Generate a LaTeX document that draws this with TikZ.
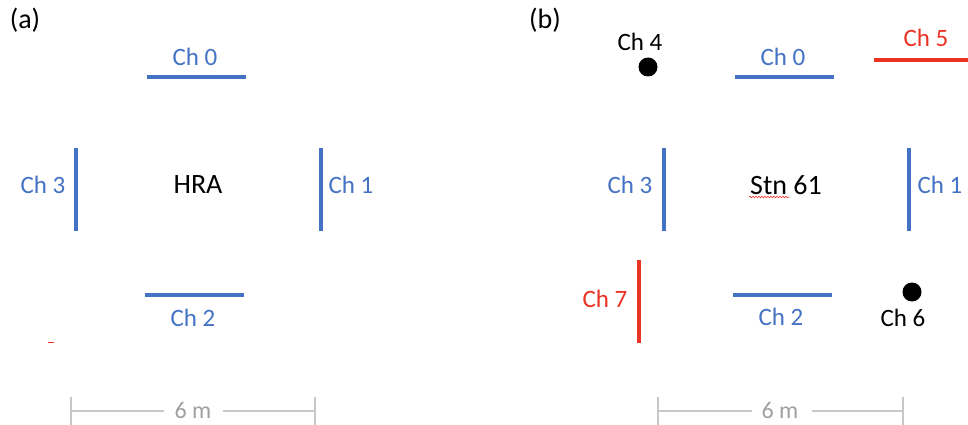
\documentclass[tikz,border=0pt]{standalone}
\usepackage{fontspec}
\setmainfont{Carlito}
\usetikzlibrary{decorations.pathmorphing}
\definecolor{chblue}{RGB}{68,114,196}
\definecolor{chred}{RGB}{234,51,35}
\definecolor{scalegray}{RGB}{200,200,200}
\definecolor{scaletext}{RGB}{160,160,160}
\tikzset{
  ant/.style={line width=4pt, chblue},
  antred/.style={line width=4pt, chred},
  lbl/.style={inner sep=0pt, font=\fontsize{25}{30}\selectfont, text=chblue},
  lblred/.style={lbl, text=chred},
  lblblk/.style={lbl, text=black},
  title/.style={inner sep=0pt, font=\fontsize{28}{33}\selectfont, text=black},
  scaleline/.style={line width=1.5pt, scalegray},
  scalelbl/.style={inner sep=0pt, font=\fontsize{24}{28}\selectfont, text=scaletext},
  dot/.style={circle, fill=black, inner sep=0pt, minimum size=19pt}
}
\begin{document}
\begin{tikzpicture}[x=1pt,y=-1pt]
\useasboundingbox (0,0) rectangle (968,425);
% ---------- panel (a) ----------
\node[title] (pa) at (25,20) {(a)};
\draw[ant] (147,77) -- (246,77);
\node[lbl] (a0) at (195,57) {Ch 0};
\draw[ant] (321,148) -- (321,231);
\node[lbl] (a1) at (351,185) {Ch 1};
\draw[ant] (145,295) -- (244,295);
\node[lbl] (a2) at (193,318) {Ch 2};
\draw[ant] (76,148) -- (76,231);
\node[lbl] (a3) at (43,185) {Ch 3};
\node[title] (hra) at (198,185) {HRA};
\draw[chred, line width=1pt] (48,342) -- (54,342);
% scale bar (a)
\node[scalelbl] (sa) at (193,410) {6 m};
\coordinate (sa1) at (71,411);
\coordinate (sa2) at (315,411);
\draw[scaleline] (71,397) -- (71,425);
\draw[scaleline] (315,397) -- (315,425);
\draw[scaleline] (sa1) -- (164,411);
\draw[scaleline] (223,411) -- (sa2);
% ---------- panel (b) ----------
\node[title] (pb) at (545,20) {(b)};
\node[lblblk] (b4) at (640,42) {Ch 4};
\node[dot] (d4) at (648,67) {};
\draw[ant] (735,77) -- (834,77);
\node[lbl] (b0) at (783,57) {Ch 0};
\draw[antred] (874,60) -- (968,60);
\node[lblred] (b5) at (926,38) {Ch 5};
\draw[ant] (664,148) -- (664,231);
\node[lbl] (b3) at (630,185) {Ch 3};
\node[title] (stn) at (786,185) {Stn 61};
\draw[chred, line width=0.6pt, decorate, decoration={snake, amplitude=0.8pt, segment length=3pt}] (749,197) -- (789,197);
\draw[ant] (909,148) -- (909,231);
\node[lbl] (b1) at (940,185) {Ch 1};
\draw[antred] (639,260) -- (639,343);
\node[lblred] (b7) at (605,299) {Ch 7};
\draw[ant] (733,295) -- (832,295);
\node[lbl] (b2) at (781,317) {Ch 2};
\node[dot] (d6) at (912,292) {};
\node[lblblk] (b6) at (903,318) {Ch 6};
% scale bar (b)
\node[scalelbl] (sb) at (780,410) {6 m};
\coordinate (sb1) at (658,411);
\coordinate (sb2) at (903,411);
\draw[scaleline] (658,397) -- (658,425);
\draw[scaleline] (903,397) -- (903,425);
\draw[scaleline] (sb1) -- (752,411);
\draw[scaleline] (812,411) -- (sb2);
\end{tikzpicture}
\end{document}
